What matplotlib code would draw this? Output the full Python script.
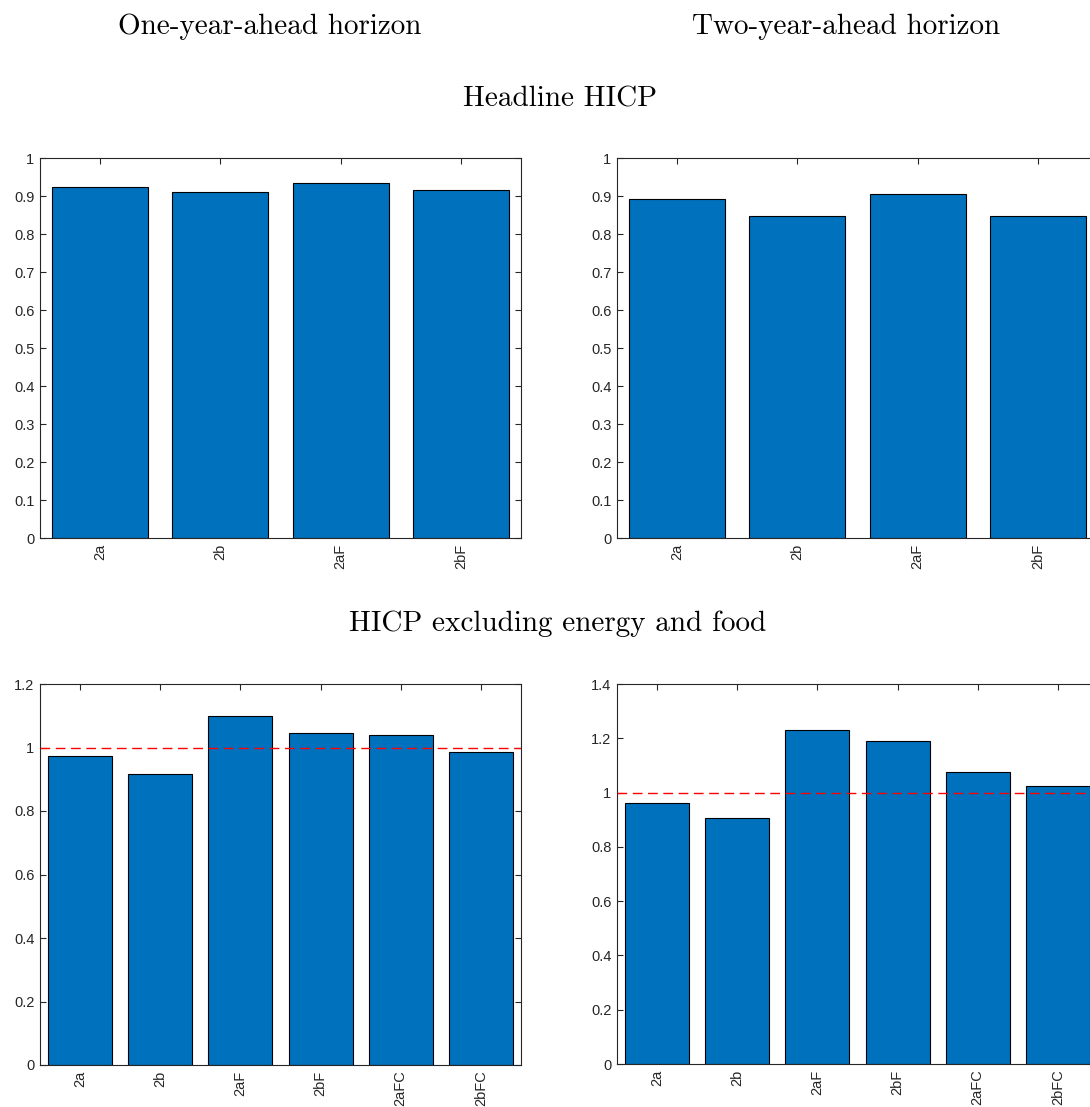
import numpy as np
import matplotlib
matplotlib.use("Agg")
from matplotlib import pyplot as plt
from matplotlib.ticker import FuncFormatter

# data
labels_top = ["2a", "2b", "2aF", "2bF"]
labels_bot = ["2a", "2b", "2aF", "2bF", "2aFC", "2bFC"]
headline_1y = [0.925, 0.911, 0.935, 0.915]
headline_2y = [0.891, 0.847, 0.905, 0.848]
core_1y = [0.972, 0.916, 1.098, 1.047, 1.038, 0.987]
core_2y = [0.963, 0.906, 1.229, 1.190, 1.075, 1.025]

bar_color = "#0072BD"
axis_color = "#262626"
W, H = 1090, 1107

plt.rcParams["font.family"] = ["Liberation Sans", "DejaVu Sans"]
plt.rcParams["axes.unicode_minus"] = False

fig = plt.figure(figsize=(W / 100, H / 100), dpi=100)


def make_axes(x0, y_top, y_bot, width=481):
    return fig.add_axes([x0 / W, (H - y_bot) / H, width / W, (y_bot - y_top) / H])


def bar_panel(ax, labels, values, ymax, ystep, ref_line=False):
    x = np.arange(1, len(values) + 1)
    ax.bar(x, values, width=0.8, color=bar_color, edgecolor="black", linewidth=0.8, zorder=2)
    if ref_line:
        ax.axhline(1, color="red", linestyle=(0, (7, 4)), linewidth=1.0, zorder=3)
    ax.set_xlim(0.5, len(values) + 0.5)
    ax.set_ylim(0, ymax)
    ax.set_xticks(x)
    ax.set_xticklabels(labels, rotation=90)
    ax.set_yticks(np.arange(0, ymax + ystep / 2, ystep))
    ax.yaxis.set_major_formatter(FuncFormatter(lambda v, p: "%g" % round(v, 2)))
    ax.tick_params(direction="in", length=4, width=0.8, colors=axis_color,
                   labelsize=10.5, top=True, right=True, pad=4)
    for s in ax.spines.values():
        s.set_color(axis_color)
        s.set_linewidth(0.8)


ax1 = make_axes(40, 158, 538)
bar_panel(ax1, labels_top, headline_1y, 1.0, 0.1)
ax2 = make_axes(617, 158, 538)
bar_panel(ax2, labels_top, headline_2y, 1.0, 0.1)
ax3 = make_axes(40, 684, 1065)
bar_panel(ax3, labels_bot, core_1y, 1.2, 0.2, ref_line=True)
ax4 = make_axes(617, 684, 1064)
bar_panel(ax4, labels_bot, core_2y, 1.4, 0.2, ref_line=True)

title_font = dict(family="cmr10", size=21, ha="center", va="center", color="black")
fig.text(270 / W, 1 - 27 / H, "One-year-ahead horizon", **title_font)
fig.text(846 / W, 1 - 27 / H, "Two-year-ahead horizon", **title_font)
fig.text(560 / W, 1 - 99 / H, "Headline HICP", **title_font)
fig.text(558 / W, 1 - 624 / H, "HICP excluding energy and food", **title_font)

fig.savefig("out.png", dpi=100)
